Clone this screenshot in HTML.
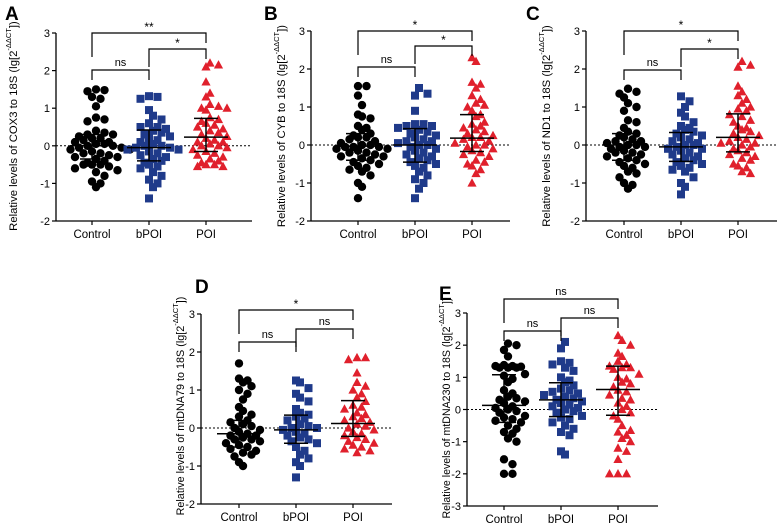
<!DOCTYPE html>
<html><head><meta charset="utf-8"><style>
body{margin:0;background:#fff}
svg{display:block;font-family:"Liberation Sans",Arial,sans-serif}
</style></head><body>
<svg id="fig" width="777" height="526" viewBox="0 0 777 526" xmlns="http://www.w3.org/2000/svg"></svg>
<script>
const categories=["Control","bPOI","POI"];
const panelLetters=["A","B","C","D","E"];
const panelGenes=["COX3","CYB","ND1","mtDNA79","mtDNA230"];
const yTicksABCD=[-2,-1,0,1,2,3];
const yTicksE=[-3,-2,-1,0,1,2,3];
const sigLabels=[["**","*","ns"],["*","*","ns"],["*","*","ns"],["*","ns","ns"],["ns","ns","ns"]];
const aCtrl=[1.5,1.48,1.45,1.3,1.25,1.05,0.75,0.7,0.65,0.4,0.35,0.3,0.3,0.25,0.2,0.2,0.15,0.1,0.1,0.05,0.05,0,0,-0.05,-0.05,-0.1,-0.1,-0.15,-0.2,-0.2,-0.25,-0.3,-0.3,-0.35,-0.4,-0.45,-0.5,-0.5,-0.5,-0.55,-0.6,-0.65,-0.7,-0.8,-0.95,-1.0,-1.1];
const aB=[1.32,1.3,1.25,0.95,0.8,0.7,0.6,0.5,0.5,0.45,0.4,0.35,0.3,0.25,0.2,0.15,0.1,0.05,0,0,-0.05,-0.05,-0.1,-0.1,-0.15,-0.2,-0.25,-0.3,-0.35,-0.4,-0.45,-0.5,-0.55,-0.6,-0.7,-0.8,-0.9,-1.0,-1.1,-1.4];
const aP=[2.2,2.15,2.1,1.7,1.4,1.3,1.1,1.05,1.0,1.0,0.95,0.75,0.7,0.65,0.6,0.55,0.5,0.45,0.4,0.35,0.3,0.25,0.2,0.15,0.1,0.1,0.05,0,0,-0.05,-0.1,-0.15,-0.2,-0.25,-0.3,-0.35,-0.4,-0.45,-0.5,-0.5,-0.55,-0.55];
const bCtrl=[1.55,1.55,1.3,1.05,0.8,0.75,0.7,0.5,0.45,0.4,0.3,0.25,0.2,0.2,0.15,0.1,0.05,0,0,-0.05,-0.05,-0.05,-0.1,-0.1,-0.15,-0.2,-0.2,-0.25,-0.3,-0.3,-0.35,-0.4,-0.45,-0.5,-0.55,-0.6,-0.65,-0.7,-0.8,-1.0,-1.1,-1.4];
const bB=[1.5,1.35,1.3,0.9,0.55,0.55,0.5,0.5,0.45,0.4,0.35,0.3,0.25,0.2,0.15,0.1,0.1,0.05,0,0,-0.05,-0.1,-0.15,-0.2,-0.25,-0.3,-0.35,-0.4,-0.45,-0.5,-0.55,-0.6,-0.7,-0.8,-0.9,-1.0,-1.15,-1.4];
const bP=[2.3,2.2,1.65,1.6,1.5,1.3,1.2,1.1,1.05,1.0,0.9,0.8,0.75,0.6,0.55,0.5,0.45,0.4,0.35,0.3,0.25,0.2,0.2,0.15,0.1,0.05,0,0,-0.05,-0.1,-0.15,-0.2,-0.25,-0.3,-0.4,-0.45,-0.5,-0.55,-0.65,-0.75,-1.0];
const cCtrl=[1.48,1.4,1.35,1.25,1.1,1.0,0.9,0.65,0.6,0.45,0.35,0.3,0.25,0.2,0.15,0.1,0.1,0.05,0,0,-0.05,-0.05,-0.1,-0.15,-0.2,-0.2,-0.25,-0.3,-0.35,-0.4,-0.45,-0.5,-0.55,-0.6,-0.7,-0.75,-0.85,-1.0,-1.05,-1.15];
const cB=[1.28,1.15,1.0,0.85,0.75,0.6,0.5,0.45,0.4,0.35,0.3,0.25,0.2,0.15,0.1,0.05,0,0,-0.05,-0.1,-0.1,-0.15,-0.2,-0.25,-0.3,-0.35,-0.4,-0.45,-0.5,-0.55,-0.6,-0.65,-0.7,-0.85,-1.0,-1.1,-1.3];
const cP=[2.2,2.1,2.05,1.55,1.4,1.3,1.2,1.1,1.0,0.95,0.9,0.8,0.75,0.65,0.6,0.5,0.45,0.4,0.35,0.3,0.25,0.2,0.15,0.1,0.05,0.05,0,-0.05,-0.1,-0.15,-0.2,-0.25,-0.3,-0.35,-0.4,-0.5,-0.55,-0.6,-0.7,-0.75];
const dCtrl=[1.7,1.3,1.25,1.2,1.1,1.0,0.9,0.75,0.55,0.45,0.35,0.3,0.2,0.15,0.1,0.05,0,-0.05,-0.1,-0.15,-0.2,-0.2,-0.25,-0.3,-0.3,-0.35,-0.4,-0.45,-0.5,-0.55,-0.6,-0.65,-0.7,-0.75,-0.9,-1.0];
const dB=[1.25,1.2,1.05,0.9,0.8,0.7,0.5,0.4,0.35,0.3,0.25,0.2,0.1,0.05,0,0,-0.05,-0.1,-0.15,-0.2,-0.25,-0.3,-0.35,-0.4,-0.5,-0.6,-0.7,-0.8,-0.9,-1.0,-1.3];
const dP=[1.85,1.85,1.8,1.45,1.2,1.1,1.0,0.9,0.8,0.7,0.6,0.55,0.5,0.4,0.35,0.3,0.25,0.2,0.15,0.1,0.05,0,-0.05,-0.1,-0.15,-0.2,-0.25,-0.3,-0.35,-0.4,-0.45,-0.5,-0.55,-0.6,-0.65];
const eCtrl=[2.05,2.0,1.85,1.65,1.38,1.35,1.35,1.33,1.3,1.3,1.3,1.1,1.05,0.95,0.85,0.6,0.5,0.4,0.35,0.3,0.25,0.2,0.1,0.05,0,-0.05,-0.1,-0.2,-0.25,-0.3,-0.35,-0.4,-0.5,-0.6,-0.7,-0.75,-0.9,-1.0,-1.55,-1.7,-2.0,-2.0];
const eB=[2.1,1.9,1.5,1.45,1.4,1.3,1.2,1.0,0.9,0.85,0.75,0.65,0.6,0.55,0.5,0.45,0.4,0.35,0.3,0.25,0.2,0.15,0.1,0.05,0,-0.05,-0.1,-0.2,-0.25,-0.3,-0.4,-0.5,-0.6,-0.7,-0.8,-1.3,-1.4];
const eP=[2.3,2.15,2.0,1.75,1.65,1.5,1.4,1.35,1.3,1.3,1.25,1.1,1.0,0.95,0.85,0.8,0.7,0.6,0.55,0.45,0.35,0.3,0.2,0.1,0,-0.1,-0.2,-0.3,-0.5,-0.65,-0.7,-0.8,-0.9,-1.0,-1.2,-1.3,-1.55,-2.0,-2.0,-2.0];
const means=[[0.0,-0.05,0.23],[-0.03,0.0,0.18],[0.0,-0.05,0.2],[-0.15,-0.05,0.12],[0.13,0.3,0.62]];
const sdHi=[[0.3,0.42,0.73],[0.3,0.43,0.8],[0.3,0.33,0.82],[0.2,0.34,0.72],[1.08,0.83,1.35]];
const sdLo=[[-0.35,-0.4,-0.15],[-0.4,-0.45,-0.17],[-0.4,-0.43,-0.18],[-0.5,-0.4,-0.22],[-0.4,-0.22,-0.18]];
const series=[[aCtrl,aB,aP],[bCtrl,bB,bP],[cCtrl,cB,cP],[dCtrl,dB,dP],[eCtrl,eB,eP]];

// layout (not data)
const layouts=[
 {ax:56,x0:92,top:33,bot:221,ymin:-2,ymax:3,right:252,lx:14,ly:126,fs:11.3,let:[5,20],br:[33,49,70]},
 {ax:311,x0:358,top:31,bot:221,ymin:-2,ymax:3,right:510,lx:282,ly:126,fs:11.3,let:[264,20],br:[31,46,67]},
 {ax:586,x0:624,top:31,bot:221,ymin:-2,ymax:3,right:777,lx:547,ly:126,fs:11.3,let:[526,20],br:[31,49,70]},
 {ax:201,x0:239,top:314,bot:504,ymin:-2,ymax:3,right:392,lx:181,ly:406,fs:10.8,let:[195,293],br:[310,329,342]},
 {ax:467,x0:504,top:313,bot:506,ymin:-3,ymax:3,right:658,lx:447,ly:408,fs:10.6,let:[439,300],br:[299,318,331]}
];
const colors=["#000","#1f3a8a","#e0202c"];
const NS="http://www.w3.org/2000/svg";
const svg=document.getElementById('fig');
function mk(t,a,p){const e=document.createElementNS(NS,t);for(const k in a)e.setAttribute(k,a[k]);(p||svg).appendChild(e);return e;}

layouts.forEach((L,pi)=>{
 const g=mk('g',{});
 
 
 const y=v=>L.bot-(v-L.ymin)/(L.ymax-L.ymin)*(L.bot-L.top);
 const x=i=>L.x0+i*57;
 const lt=mk('text',{x:L.let[0],y:L.let[1],'font-size':19,'font-weight':'bold'},g);lt.textContent=panelLetters[pi];
 
 const ticks=pi==4?yTicksE:yTicksABCD;
 const ya=mk('g',{},g);
 mk('line',{x1:L.ax,x2:L.ax,y1:L.top,y2:L.bot,stroke:'#000','stroke-width':1.3},ya);
 ticks.forEach(t=>{mk('line',{x1:L.ax-4,x2:L.ax,y1:y(t),y2:y(t),stroke:'#000','stroke-width':1.2},ya);
  const tx=mk('text',{x:L.ax-6,y:y(t)+4,'font-size':11,'text-anchor':'end'},ya);tx.textContent=t;});
 const xa=mk('g',{},g);
 mk('line',{x1:L.ax,x2:L.right,y1:L.bot,y2:L.bot,stroke:'#000','stroke-width':1.3},xa);
 categories.forEach((c,i)=>{mk('line',{x1:x(i),x2:x(i),y1:L.bot,y2:L.bot+4,stroke:'#000','stroke-width':1.2},xa);
  const tx=mk('text',{x:x(i),y:L.bot+17,'font-size':11.5,'text-anchor':'middle'},xa);tx.textContent=c;});
 const zl=mk('line',{x1:L.ax,x2:L.right,y1:y(0),y2:y(0),stroke:'#000','stroke-width':1,'stroke-dasharray':'2,2'},g);
 
 const yl=mk('text',{x:L.lx,y:L.ly,'font-size':L.fs,'text-anchor':'middle',transform:`rotate(-90 ${L.lx} ${L.ly})`,'dominant-baseline':'middle'},g);
 
 yl.innerHTML=`Relative levels of ${panelGenes[pi]} to 18S (lg[2<tspan dy="-5" font-size="7.5">-ΔΔCT</tspan><tspan dy="5">])</tspan>`;
 series[pi].forEach((vals,ci)=>{
  const sg=mk('g',{fill:colors[ci]},g);
  
  
  const bins={};
  vals.forEach(v=>{
   const py=y(v);const b=Math.round(py/7);const n=bins[b]||0;bins[b]=n+1;
   const off=(n==0?0:(n%2?1:-1)*Math.ceil(n/2)*8.5)+((b%2)?4:0);
   const px=x(ci)+off;let m;
   if(ci==0)m=mk('circle',{cx:px,cy:py,r:4.2},sg);
   else if(ci==1)m=mk('rect',{x:px-4,y:py-4,width:8,height:8},sg);
   else m=mk('polygon',{points:`${px},${py-4.8} ${px-4.6},${py+3.6} ${px+4.6},${py+3.6}`},sg);
   
   
  });
  const eb=mk('g',{stroke:'#000','stroke-width':1.5},g);
  
  
  mk('line',{x1:x(ci)-22,x2:x(ci)+22,y1:y(means[pi][ci]),y2:y(means[pi][ci])},eb);
  mk('line',{x1:x(ci),x2:x(ci),y1:y(sdHi[pi][ci]),y2:y(sdLo[pi][ci])},eb);
  mk('line',{x1:x(ci)-12,x2:x(ci)+12,y1:y(sdHi[pi][ci]),y2:y(sdHi[pi][ci])},eb);
  mk('line',{x1:x(ci)-12,x2:x(ci)+12,y1:y(sdLo[pi][ci]),y2:y(sdLo[pi][ci])},eb);
 });
 const pairs=[[0,2,24,10],[1,2,18,10],[0,1,10,10]];
 pairs.forEach((p,k)=>{
  const by=L.br[k];const bg=mk('g',{},g);
  
  
  mk('path',{d:`M${x(p[0])},${by+p[2]}V${by}H${x(p[1])}V${by+p[3]}`,fill:'none',stroke:'#000','stroke-width':1.2},bg);
  const lab=sigLabels[pi][k];
  const t=mk('text',{x:(x(p[0])+x(p[1]))/2,y:by-(lab=='ns'?4:2),'font-size':lab=='ns'?11:12,'text-anchor':'middle'},bg);t.textContent=lab;
 });
});
</script>
</body></html>
